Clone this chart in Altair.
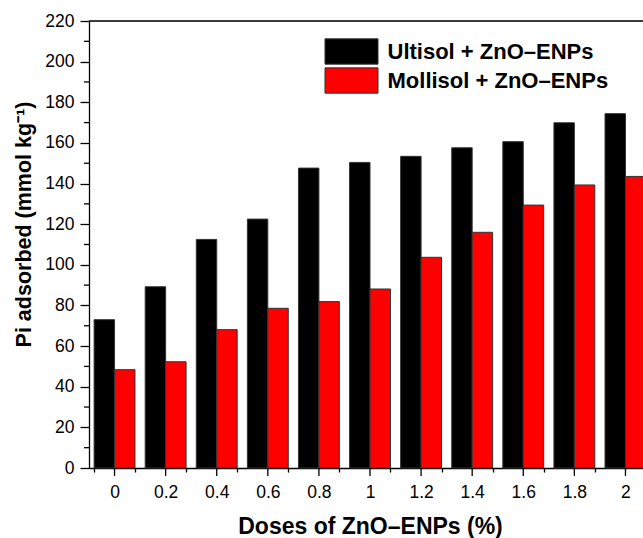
import altair as alt
import pandas as pd

doses = ["0", "0.2", "0.4", "0.6", "0.8", "1", "1.2", "1.4", "1.6", "1.8", "2"]
ultisol = [73.0, 89.2, 112.5, 122.5, 147.6, 150.4, 153.4, 157.6, 160.6, 169.9, 174.4]
mollisol = [48.4, 52.3, 68.1, 78.6, 81.9, 88.1, 103.7, 116.0, 129.4, 139.3, 143.5]
series = ["Ultisol + ZnO\u2013ENPs", "Mollisol + ZnO\u2013ENPs"]
colors = ["#000000", "#ff0000"]
y_major = list(range(0, 221, 20))
y_minor = list(range(10, 220, 20))
frame_top = [220]

rows = []
for d, u, m in zip(doses, ultisol, mollisol):
    rows.append({"dose": d, "series": series[0], "value": u})
    rows.append({"dose": d, "series": series[1], "value": m})
df = pd.DataFrame(rows)
df_doses = pd.DataFrame({"dose": doses})
df_minor = pd.DataFrame({"value": y_minor})
df_top = pd.DataFrame({"value": frame_top})

FONT = "Liberation Sans"
W, H = 554, 447          # visible plot area (the frame continues past the right edge)
RANGE_W = 562            # full x extent of the 11 dose bands

xscale = alt.Scale(paddingInner=0.2, paddingOuter=0.1, range=[0, RANGE_W])
yscale = alt.Scale(domain=[0, 220], nice=False)

xaxis = alt.Axis(title="Doses of ZnO\u2013ENPs (%)", labelAngle=0,
                 tickBand="extent", tickSize=4, tickWidth=1.3, tickColor="black",
                 domainColor="black", domainWidth=1.3,
                 labelFont=FONT, labelFontSize=17.5, labelColor="black",
                 labelPadding=11,
                 titleFont=FONT, titleFontSize=23, titleFontWeight="bold",
                 titleColor="black", titleX=RANGE_W / 2, titleY=65,
                 titleBaseline="alphabetic", titleAlign="center")
yaxis = alt.Axis(title="Pi adsorbed (mmol kg\u207b\u00b9)", values=y_major,
                 grid=False, tickSize=9, tickWidth=1.3, tickColor="black",
                 domainColor="black", domainWidth=1.3,
                 labelFont=FONT, labelFontSize=17.5, labelColor="black",
                 labelPadding=6,
                 titleFont=FONT, titleFontSize=21.5, titleFontWeight="bold",
                 titleColor="black", titleX=-65, titleY=203, titleAngle=-90,
                 titleBaseline="middle", titleAlign="center")

# legend swatch: 53 x 25 rectangle drawn with a custom path on a 27 px entry
bars = alt.Chart(df).mark_bar(stroke="#333333", strokeWidth=1).encode(
    x=alt.X("dose:N", sort=doses, scale=xscale, axis=xaxis),
    xOffset=alt.XOffset("series:N", sort=series),
    y=alt.Y("value:Q", scale=yscale, axis=yaxis),
    color=alt.Color("series:N", sort=series,
                    scale=alt.Scale(domain=series, range=colors),
                    legend=alt.Legend(title=None, orient="none", legendX=248.5, legendY=16.5,
                                      symbolType="M-1.963,-0.937H1.963V0.937H-1.963Z",
                                      symbolSize=729, symbolStrokeColor="#333333",
                                      symbolStrokeWidth=1, symbolOpacity=1,
                                      labelFont=FONT, labelFontSize=22,
                                      labelFontWeight="bold", labelColor="black",
                                      labelOffset=22, labelLimit=400,
                                      rowPadding=-2, padding=0)),
)

xticks = alt.Chart(df_doses).mark_rule(color="black", strokeWidth=1.3).encode(
    x=alt.X("dose:N", sort=doses, scale=xscale, axis=xaxis),
    y=alt.value(H),
    y2=alt.value(H + 8),
)

yticks = alt.Chart(df_minor).mark_rule(color="black", strokeWidth=1.3).encode(
    y=alt.Y("value:Q", scale=yscale, axis=yaxis),
    x=alt.value(-5),
    x2=alt.value(0),
)

top = alt.Chart(df_top).mark_rule(color="black", strokeWidth=1.3).encode(
    y=alt.Y("value:Q", scale=yscale, axis=yaxis),
    x=alt.value(0),
    x2=alt.value(RANGE_W),
)

chart = alt.layer(bars, xticks, yticks, top).properties(
    width=W, height=H,
    autosize=alt.AutoSizeParams(type="none"),
    padding={"left": 89, "top": 21, "right": 0, "bottom": 70},
).configure_view(strokeWidth=0).configure(background="white")

chart.save("out.html", embed_options={"renderer": "svg", "actions": False})
